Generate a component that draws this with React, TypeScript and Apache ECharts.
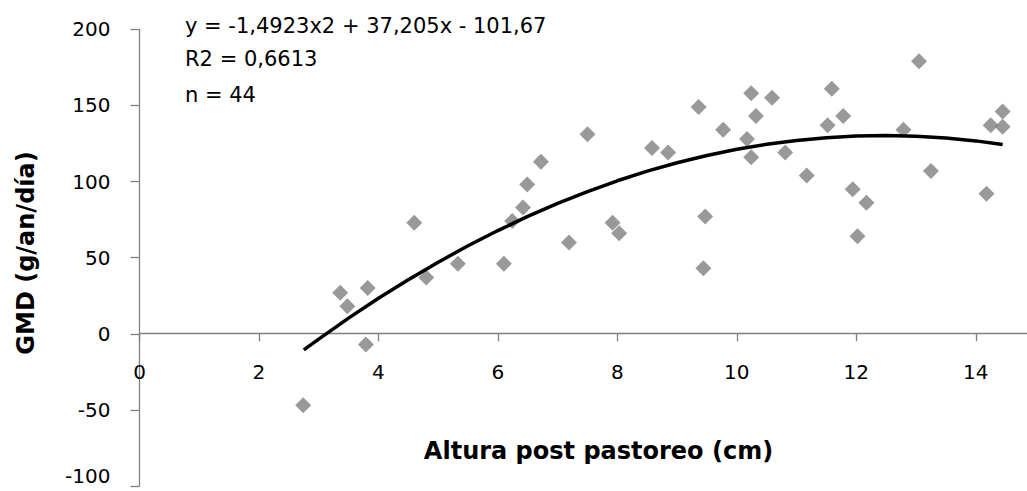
import React, { useEffect, useRef } from "react";
import * as echarts from "echarts";

// Observed data: altura post pastoreo (cm) vs GMD (g/an/día)
const alturaCm: number[] = [
  2.74, 3.36, 3.48, 3.79, 3.82, 4.6, 4.8, 5.33, 6.1, 6.24, 6.42, 6.49, 6.72, 7.19, 7.5,
  7.92, 8.03, 8.58, 8.85, 9.36, 9.44, 9.47, 9.77, 10.17, 10.24, 10.24, 10.32, 10.59,
  10.81, 11.17, 11.52, 11.59, 11.78, 11.94, 12.02, 12.17, 12.79, 13.05, 13.25, 14.18,
  14.25, 14.45, 14.45,
];
const gmd: number[] = [
  -47, 27, 18, -7, 30, 73, 37, 46, 46, 74, 83, 98, 113, 60, 131,
  73, 66, 122, 119, 149, 43, 77, 134, 128, 116, 158, 143, 155,
  119, 104, 137, 161, 143, 95, 64, 86, 134, 179, 107, 92,
  137, 146, 136,
];

// Trend line
const trendX: number[] = [
  2.75, 3, 3.5, 4, 4.5, 5, 5.5, 6, 6.5, 7, 7.5, 8, 8.5, 9, 9.5, 10, 10.5, 11, 11.5, 12,
  12.5, 13, 13.5, 14, 14.45,
];
const trendY: number[] = [
  -10.6, -3.5, 10.3, 23.3, 35.5, 47, 57.8, 67.8, 77.1, 85.6, 93.4, 100.5, 106.8, 112.3,
  117.1, 121.2, 124.5, 127, 128.8, 129.9, 130.2, 129.8, 128.6, 126.7, 124.3,
];

const annotationLines: string[] = ["y = -1,4923x2 + 37,205x - 101,67", "R2 = 0,6613", "n = 44"];
const xTitle = "Altura post pastoreo (cm)";
const yTitle = "GMD (g/an/día)";

const FONT = "DejaVu Sans";

export default function App() {
  const ref = useRef<HTMLDivElement>(null);
  useEffect(() => {
    if (!ref.current) return;
    const chart = echarts.init(ref.current, undefined, { renderer: "svg" });
    const annY = [27, 60, 96];
    const gridTop = 29.3;
    const gridHeight = 456.7;
    const zeroY = 333.3;
    chart.setOption({
      animation: false,
      backgroundColor: "#ffffff",
      grid: {
        left: 139.5,
        top: gridTop,
        width: 896,
        height: gridHeight,
        containLabel: false,
        outerBoundsMode: "none",
      },
      xAxis: {
        type: "value",
        min: 0,
        max: 15,
        interval: 2,
        offset: -(gridTop + gridHeight - zeroY),
        axisLine: { onZero: false, lineStyle: { color: "#808080", width: 1.3 } },
        axisTick: { show: true, length: 8, lineStyle: { color: "#808080", width: 1.3 } },
        axisLabel: {
          margin: 29,
          color: "#000",
          fontFamily: FONT,
          fontSize: 20,
          showMaxLabel: false,
        },
        splitLine: { show: false },
      },
      yAxis: {
        type: "value",
        min: -100,
        max: 200,
        interval: 50,
        axisLine: { show: true, onZero: false, lineStyle: { color: "#808080", width: 1.3 } },
        axisTick: { show: true, length: 9, lineStyle: { color: "#808080", width: 1.3 } },
        axisLabel: {
          margin: 29,
          color: "#000",
          fontFamily: FONT,
          fontSize: 20,
          verticalAlignMinLabel: "bottom",
        },
        splitLine: { show: false },
      },
      series: [
        {
          type: "scatter",
          data: alturaCm.map((x, i) => [x, gmd[i]]),
          symbol: "diamond",
          symbolSize: 16,
          itemStyle: { color: "#808080" },
          z: 2,
        },
        {
          type: "line",
          data: trendX.map((x, i) => [x, trendY[i]]),
          showSymbol: false,
          symbol: "none",
          lineStyle: { color: "#000", width: 3.5 },
          z: 3,
        },
      ],
      graphic: [
        ...annotationLines.map((t, i) => ({
          type: "text",
          left: 185,
          top: annY[i] - 12,
          style: { text: t, fill: "#000", font: `21px "${FONT}"` },
        })),
        {
          type: "text",
          x: 598.5,
          y: 451,
          style: {
            text: xTitle,
            fill: "#000",
            font: `bold 24px "${FONT}"`,
            align: "center",
            verticalAlign: "middle",
          },
        },
        {
          type: "text",
          x: 25.6,
          y: 253,
          rotation: Math.PI / 2,
          style: {
            text: yTitle,
            fill: "#000",
            font: `bold 24px "${FONT}"`,
            align: "center",
            verticalAlign: "middle",
          },
        },
      ],
    });
    return () => chart.dispose();
  }, []);
  return (
    <div
      ref={ref}
      style={{ position: "absolute", left: 0, top: 0, width: 1027, height: 491, overflow: "hidden" }}
    />
  );
}
